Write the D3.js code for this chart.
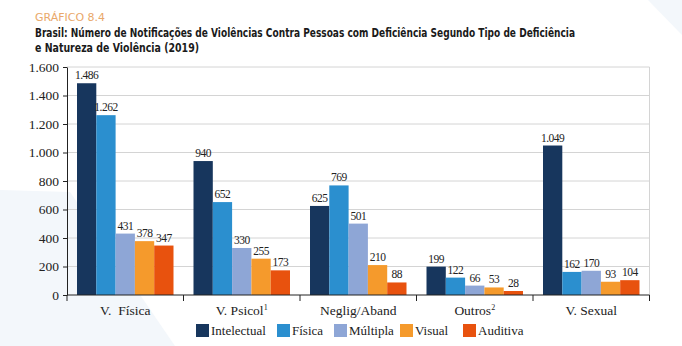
<!DOCTYPE html>
<html><head><meta charset="utf-8">
<script src="https://cdn.jsdelivr.net/npm/d3@7"></script>
<style>body{margin:0;background:#fff}svg{display:block}</style>
</head><body>
<script>
const categories = ["V.  Física", "V. Psicol", "Neglig/Aband", "Outros", "V. Sexual"];
const catSup = ["", "1", "", "2", ""];
const seriesNames = ["Intelectual", "Física", "Múltipla", "Visual", "Auditiva"];
const colors = ["#17365d", "#2b8fcf", "#8ea6d6", "#f59a2c", "#e8520e"];
const intelectual = [1486, 940, 625, 199, 1049];
const fisica = [1262, 652, 769, 122, 162];
const multipla = [431, 330, 501, 66, 170];
const visual = [378, 255, 210, 53, 93];
const auditiva = [347, 173, 88, 28, 104];
const yTicks = [0, 200, 400, 600, 800, 1000, 1200, 1400, 1600];
const series = [intelectual, fisica, multipla, visual, auditiva];

const SERIF = "'Liberation Serif', 'Times New Roman', serif";
const COND = "'DejaVu Sans Condensed', 'DejaVu Sans', sans-serif";

const W = 682, H = 346;
const svg = d3.select("body").append("svg").attr("width", W).attr("height", H);

// faint background shapes
svg.append("path").attr("d", "M0,190 L70,192 L175,346 L0,346 Z").attr("fill", "#f3f7fb");
svg.append("path").attr("d", "M648,0 L682,0 L682,35 Z").attr("fill", "#f3f7fb");

const fmt = v => d3.format(",")(v).replace(/,/g, ".");

const x0 = d3.scaleBand().domain(categories).range([67, 649.5]).paddingInner(0).paddingOuter(0);
const x1 = d3.scaleBand().domain(seriesNames).range([10, x0.bandwidth() - 10]).padding(0);
const y = d3.scaleLinear().domain([0, 1600]).range([295, 67]);

// title
svg.append("text").attr("x", 35).attr("y", 21).text("GRÁFICO 8.4")
  .style("font-family", COND).attr("font-size", 11).attr("fill", "#e9a86a").attr("textLength", 70).attr("lengthAdjust", "spacingAndGlyphs");
svg.append("text").attr("x", 35).attr("y", 37).text("Brasil: Número de Notificações de Violências Contra Pessoas com Deficiência Segundo Tipo de Deficiência")
  .style("font-family", COND).attr("font-size", 11.5).attr("font-weight", "bold").attr("fill", "#1a1a1a").attr("textLength", 540).attr("lengthAdjust", "spacingAndGlyphs");
svg.append("text").attr("x", 35).attr("y", 52).text("e Natureza de Violência (2019)")
  .style("font-family", COND).attr("font-size", 11.5).attr("font-weight", "bold").attr("fill", "#1a1a1a").attr("textLength", 164).attr("lengthAdjust", "spacingAndGlyphs");

// grid
svg.append("g").selectAll("line").data(yTicks.filter(d => d > 0)).join("line")
  .attr("x1", 67).attr("x2", 649.5).attr("y1", d => y(d)).attr("y2", d => y(d))
  .attr("stroke", "#d4d4d4").attr("stroke-width", 1);
svg.append("line").attr("x1", 649.5).attr("x2", 649.5).attr("y1", y(1600)).attr("y2", y(0))
  .attr("stroke", "#d4d4d4");

// bars
const g = svg.append("g");
categories.forEach((c, i) => {
  seriesNames.forEach((s, j) => {
    const v = series[j][i];
    const bx = x0(c) + x1(s);
    g.append("rect").attr("x", bx).attr("y", y(v)).attr("width", x1.bandwidth()).attr("height", y(0) - y(v)).attr("fill", colors[j]);
    g.append("text").attr("x", bx + x1.bandwidth() / 2).attr("y", y(v) - 4).attr("text-anchor", "middle")
      .style("font-family", SERIF).attr("font-size", 11.5).attr("fill", "#222")
      .attr("letter-spacing", -0.5).text(fmt(v));
  });
});

// y axis
const yAxis = d3.axisLeft(y).tickValues(yTicks).tickFormat(fmt).tickSize(4).tickSizeOuter(0);
const ya = svg.append("g").attr("transform", "translate(67,0)").call(yAxis);
ya.selectAll("text").style("font-family", SERIF).attr("font-size", 13.5).attr("fill", "#222").attr("dx", -1);
ya.selectAll("line,path").attr("stroke", "#222");

// x axis
const xa = svg.append("g").attr("transform", "translate(0,295)");
xa.append("line").attr("x1", 67).attr("x2", 649.5).attr("y1", 0).attr("y2", 0).attr("stroke", "#222");
const bounds = categories.map(c => x0(c)).concat([x0(categories[categories.length - 1]) + x0.bandwidth()]);
xa.selectAll(".tk").data(bounds).join("line").attr("class", "tk")
  .attr("x1", d => d).attr("x2", d => d).attr("y1", 0).attr("y2", 6).attr("stroke", "#222");
categories.forEach((c, i) => {
  const t = xa.append("text").attr("x", x0(c) + x0.bandwidth() / 2).attr("y", 20).attr("text-anchor", "middle")
    .style("font-family", SERIF).attr("font-size", 13.5).attr("fill", "#222").style("white-space", "pre");
  t.append("tspan").text(c);
  if (catSup[i]) t.append("tspan").attr("font-size", 8).attr("dy", -5).text(catSup[i]);
});

// legend
const legX = [196, 277, 334, 400, 463];
const lg = svg.append("g");
seriesNames.forEach((s, j) => {
  lg.append("rect").attr("x", legX[j]).attr("y", 324).attr("width", 13).attr("height", 13).attr("fill", colors[j]);
  lg.append("text").attr("x", legX[j] + 15).attr("y", 335).text(s)
    .style("font-family", SERIF).attr("font-size", 13).attr("fill", "#222");
});
</script>
</body></html>
